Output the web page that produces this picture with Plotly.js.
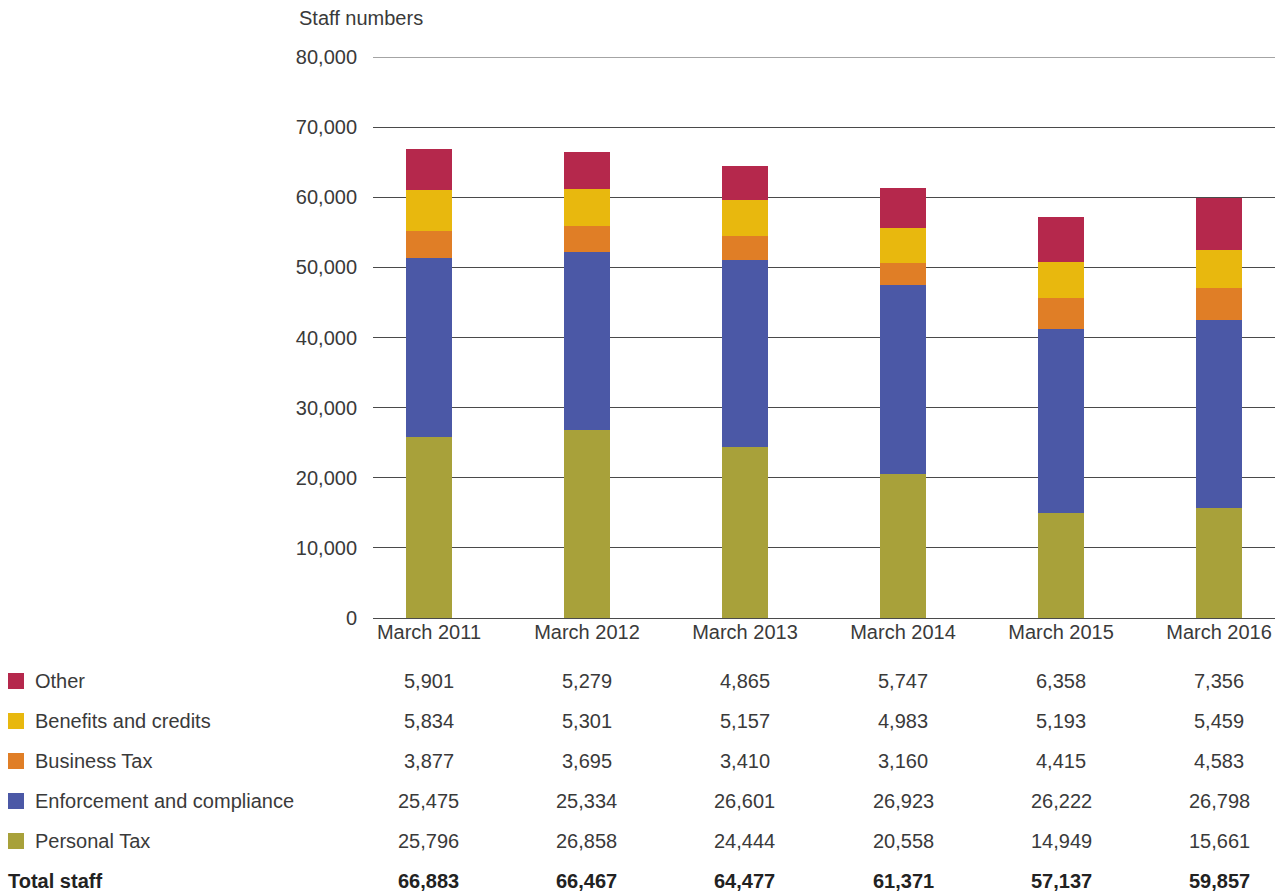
<!DOCTYPE html>
<html>
<head>
<meta charset="utf-8">
<script src="https://cdn.plot.ly/plotly-3.0.1.min.js"></script>
<style>html,body{margin:0;padding:0;background:#fff;}#chart{width:1281px;height:895px;}</style>
</head>
<body>
<div id="chart"></div>
<script>
const categories = ["March 2011","March 2012","March 2013","March 2014","March 2015","March 2016"];
const seriesNames = ["Other","Benefits and credits","Business Tax","Enforcement and compliance","Personal Tax"];
const other       = [5901, 5279, 4865, 5747, 6358, 7356];
const benefits    = [5834, 5301, 5157, 4983, 5193, 5459];
const businessTax = [3877, 3695, 3410, 3160, 4415, 4583];
const enforcement = [25475, 25334, 26601, 26923, 26222, 26798];
const personalTax = [25796, 26858, 24444, 20558, 14949, 15661];
const totals      = [66883, 66467, 64477, 61371, 57137, 59857];
const yTicks = [0,10000,20000,30000,40000,50000,60000,70000,80000];
const yTickLabels = ["0","10,000","20,000","30,000","40,000","50,000","60,000","70,000","80,000"];
const totalLabel = "Total staff";
const yTitle = "Staff numbers";

const colors = {
  "Other":"#B5284C",
  "Benefits and credits":"#E8B80E",
  "Business Tax":"#E07E26",
  "Enforcement and compliance":"#4B58A6",
  "Personal Tax":"#A8A13A"
};
const seriesData = {
  "Other": other,
  "Benefits and credits": benefits,
  "Business Tax": businessTax,
  "Enforcement and compliance": enforcement,
  "Personal Tax": personalTax
};

// plot area geometry (pixels)
const W = 1281, H = 895;
const L = 373, R = 1275, T = 57, B = 618;
const pw = R - L, ph = B - T;
const px = v => (v - L) / pw;
const py = v => (B - v) / ph;

const fontFam = '"Liberation Sans", Arial, Helvetica, sans-serif';
const txtColor = '#3a3a3a';
const fs = 20;

const stackOrder = ["Personal Tax","Enforcement and compliance","Business Tax","Benefits and credits","Other"];
const xIdx = categories.map((c,i)=>i);
const traces = stackOrder.map(name => ({
  type:'bar', name:name, x:xIdx, y:seriesData[name],
  marker:{color:colors[name], line:{width:0}},
  width:0.291, hoverinfo:'skip'
}));

const annotations = [];
const shapes = [];
// top gridline at the range edge
shapes.push({type:'line', xref:'paper', yref:'y', x0:0, x1:1, y0:yTicks[yTicks.length-1], y1:yTicks[yTicks.length-1],
  line:{color:'#4a4a4a', width:1}, layer:'below'});
annotations.push({xref:'paper', yref:'paper', x:px(297), y:py(18), xanchor:'left', yanchor:'middle',
  text:yTitle, showarrow:false, font:{family:fontFam, size:fs, color:txtColor}});

const rowY = [681,721,761,801,841];
seriesNames.forEach((name, r) => {
  const y = rowY[r];
  shapes.push({type:'rect', xref:'paper', yref:'paper', x0:px(8), x1:px(24), y0:py(y-8), y1:py(y+8),
    fillcolor:colors[name], line:{width:0}});
  annotations.push({xref:'paper', yref:'paper', x:px(33), y:py(y), xanchor:'left', yanchor:'middle',
    text:name, showarrow:false, font:{family:fontFam, size:fs, color:txtColor}});
  seriesData[name].forEach((v,i) => {
    annotations.push({xref:'x', yref:'paper', x:i, y:py(y), xanchor:'center', yanchor:'middle',
      text:v.toLocaleString('en-US'), showarrow:false, font:{family:fontFam, size:fs, color:txtColor}});
  });
});
annotations.push({xref:'paper', yref:'paper', x:px(6), y:py(881), xanchor:'left', yanchor:'middle',
  text:'<b>'+totalLabel+'</b>', showarrow:false, font:{family:fontFam, size:fs, color:'#222'}});
totals.forEach((v,i) => {
  annotations.push({xref:'x', yref:'paper', x:i, y:py(881), xanchor:'center', yanchor:'middle',
    text:'<b>'+v.toLocaleString('en-US')+'</b>', showarrow:false, font:{family:fontFam, size:fs, color:'#222'}});
});

const layout = {
  width:W, height:H,
  margin:{l:L, r:W-R, t:T, b:H-B, pad:0},
  paper_bgcolor:'#fff', plot_bgcolor:'#fff',
  barmode:'stack', showlegend:false,
  font:{family:fontFam, size:fs, color:txtColor},
  xaxis:{
    range:[-0.354, 5.354], tickmode:'array', tickvals:xIdx, ticktext:categories,
    showgrid:false, zeroline:false, showline:false, ticks:'', fixedrange:true,
    tickfont:{family:fontFam, size:fs, color:txtColor}
  },
  yaxis:{
    range:[0,80000], tickmode:'array', tickvals:yTicks, ticktext:yTickLabels,
    showgrid:true, gridcolor:'#4a4a4a', gridwidth:1,
    zeroline:true, zerolinecolor:'#4a4a4a', zerolinewidth:1,
    showline:false, ticks:'', ticklabelstandoff:15, fixedrange:true,
    tickfont:{family:fontFam, size:fs, color:txtColor}
  },
  annotations:annotations,
  shapes:shapes
};

Plotly.newPlot('chart', traces, layout, {displayModeBar:false, staticPlot:true});
</script>
</body>
</html>
